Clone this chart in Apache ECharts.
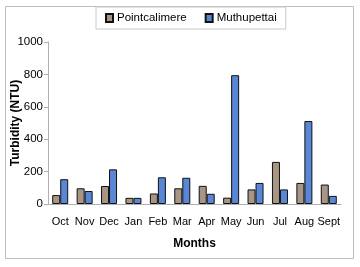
<!DOCTYPE html>
<html>
<head>
<meta charset="utf-8">
<script src="https://cdn.jsdelivr.net/npm/echarts@6/dist/echarts.min.js"></script>
<style>
  html, body { margin: 0; padding: 0; background: #fff; }
  #chart { width: 360px; height: 267px; }
</style>
</head>
<body>
<div id="chart"></div>
<script>
var months = ['Oct', 'Nov', 'Dec', 'Jan', 'Feb', 'Mar', 'Apr', 'May', 'Jun', 'Jul', 'Aug', 'Sept'];
var pointcalimere = [55, 97, 111, 38, 65, 97, 112, 39, 90, 260, 130, 120];
var muthupettai = [153, 80, 214, 38, 165, 162, 63, 795, 130, 90, 512, 50];
var yTicks = [0, 200, 400, 600, 800, 1000];

var chartDom = document.getElementById('chart');
var myChart = echarts.init(chartDom);
var option;

var font = '"Liberation Sans", Arial, sans-serif';

option = {
    animation: false,
    graphic: [
        {
            type: 'rect',
            shape: { x: 5.5, y: 6.5, width: 348, height: 252 },
            style: { fill: 'none', stroke: '#bdbdbd', lineWidth: 1 },
            silent: true
        }
    ],
    legend: {
        top: 7,
        left: 96,
        icon: 'rect',
        itemWidth: 7,
        itemHeight: 8,
        itemGap: 18,
        padding: [5, 9, 5, 9],
        borderColor: '#c8c8c8',
        borderWidth: 1,
        textStyle: { fontFamily: font, fontSize: 11.5, color: '#000', padding: [0, 0, 0, -1] },
        data: ['Pointcalimere', 'Muthupettai']
    },
    grid: {
        left: 48,
        top: 42,
        right: 19,
        bottom: 63,
        containLabel: false,
        outerBoundsMode: 'none'
    },
    xAxis: {
        type: 'category',
        data: months,
        name: 'Months',
        nameLocation: 'middle',
        nameGap: 34,
        nameTextStyle: { fontFamily: font, fontSize: 12, fontWeight: 'bold', color: '#000' },
        axisLine: { lineStyle: { color: '#b0b0b0' } },
        axisTick: { alignWithLabel: false, length: 4, lineStyle: { color: '#b0b0b0' } },
        axisLabel: { fontFamily: font, fontSize: 11, color: '#000', margin: 12, interval: 0 }
    },
    yAxis: {
        type: 'value',
        min: yTicks[0],
        max: yTicks[yTicks.length - 1],
        interval: 200,
        name: 'Turbidity (NTU)',
        nameLocation: 'middle',
        nameGap: 26,
        nameMoveOverlap: false,
        nameTextStyle: { fontFamily: font, fontSize: 12, fontWeight: 'bold', color: '#000' },
        axisLine: { show: true, lineStyle: { color: '#b0b0b0' } },
        axisTick: { show: true, length: 4, lineStyle: { color: '#b0b0b0' } },
        splitLine: { show: false },
        axisLabel: {
            fontFamily: font, fontSize: 11.5, color: '#000', margin: 5,
            formatter: function (v) { return String(v); }
        }
    },
    series: [
        {
            name: 'Pointcalimere',
            type: 'bar',
            barWidth: 8,
            barGap: '0%',
            itemStyle: { color: '#a89584', borderColor: '#111', borderWidth: 1 },
            data: pointcalimere
        },
        {
            name: 'Muthupettai',
            type: 'bar',
            barWidth: 8,
            barGap: '0%',
            itemStyle: { color: '#5a86d6', borderColor: '#111', borderWidth: 1 },
            data: muthupettai
        }
    ]
};

option && myChart.setOption(option);
</script>
</body>
</html>
